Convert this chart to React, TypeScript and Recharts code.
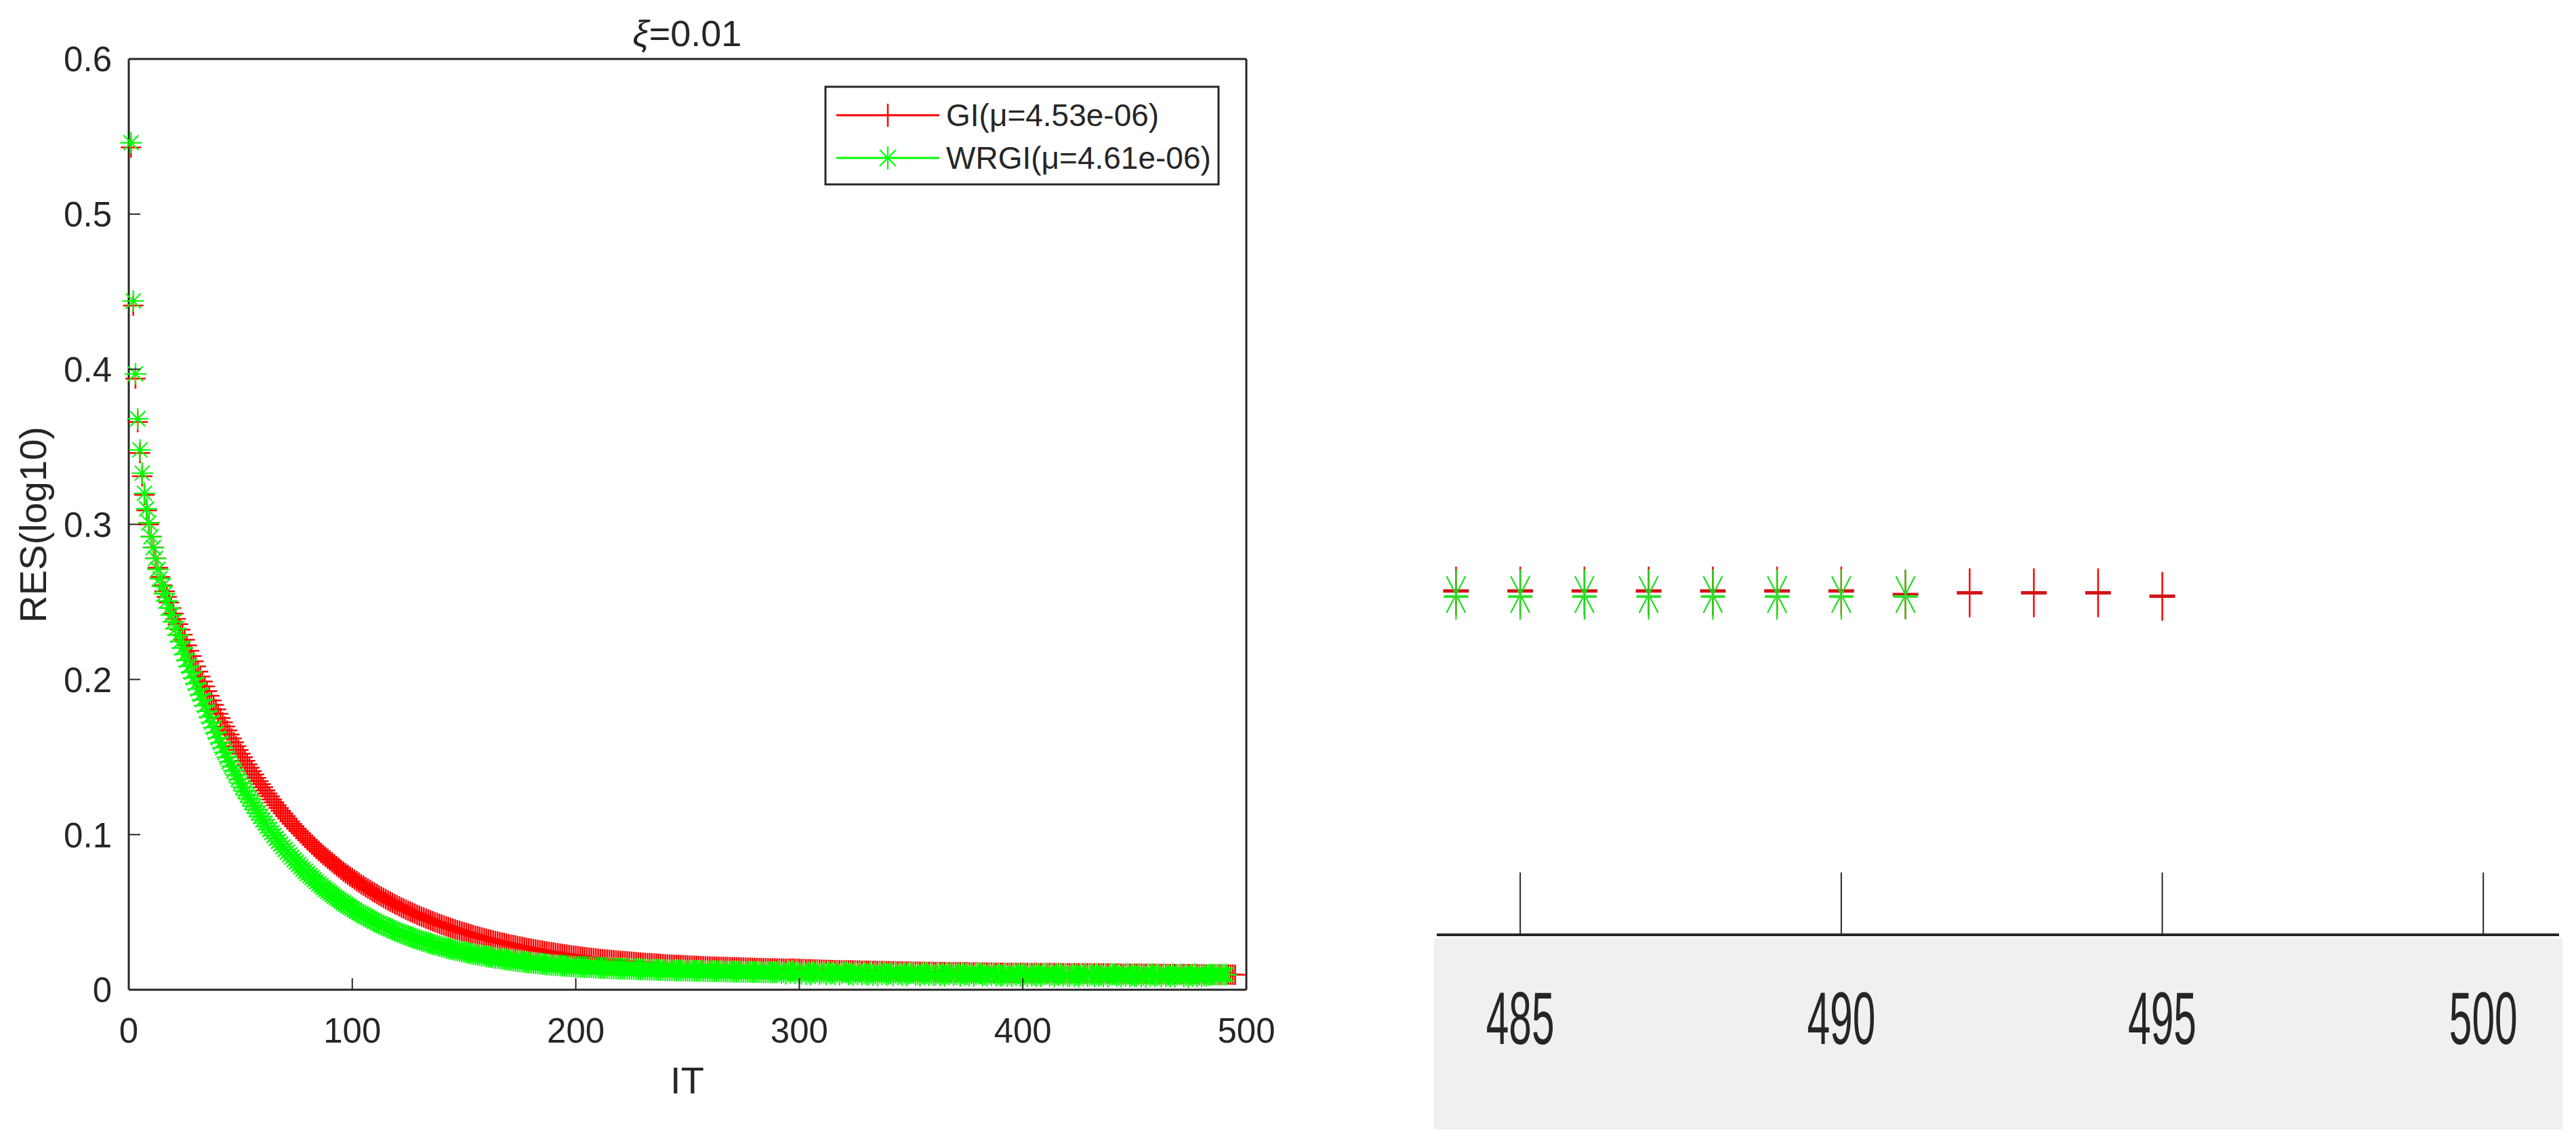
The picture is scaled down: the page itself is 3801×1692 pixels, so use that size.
import { ScatterChart, Scatter, XAxis, YAxis } from 'recharts'

// residual per iteration (iteration = index + 1)
const GI = [
  0.543, 0.441, 0.394, 0.366, 0.346, 0.331, 0.319, 0.309, 0.300, 0.292,
  0.285, 0.278, 0.272, 0.266, 0.2607, 0.2569, 0.2532, 0.2496, 0.2460, 0.2425,
  0.2390, 0.2356, 0.2322, 0.2289, 0.2256, 0.2220, 0.2185, 0.2151, 0.2117, 0.2084,
  0.2051, 0.2019, 0.1987, 0.1956, 0.1925, 0.1895, 0.1865, 0.1836, 0.1807, 0.1779,
  0.1751, 0.1724, 0.1697, 0.1671, 0.1645, 0.1620, 0.1595, 0.1570, 0.1546, 0.1522,
  0.1499, 0.1476, 0.1453, 0.1431, 0.1409, 0.1387, 0.1366, 0.1345, 0.1325, 0.1305,
  0.1285, 0.1265, 0.1246, 0.1227, 0.1208, 0.1190, 0.1172, 0.1154, 0.1137, 0.1120,
  0.1103, 0.1086, 0.1070, 0.1054, 0.1038, 0.1023, 0.1008, 0.0993, 0.0978, 0.0964,
  0.0949, 0.0935, 0.0922, 0.0908, 0.0895, 0.0882, 0.0869, 0.0856, 0.0844, 0.0832,
  0.0820, 0.0808, 0.0796, 0.0785, 0.0773, 0.0762, 0.0751, 0.0741, 0.0730, 0.0720,
  0.0710, 0.0700, 0.0690, 0.0680, 0.0671, 0.0661, 0.0652, 0.0643, 0.0634, 0.0625,
  0.0617, 0.0608, 0.0600, 0.0592, 0.0583, 0.0575, 0.0568, 0.0560, 0.0552, 0.0545,
  0.0538, 0.0530, 0.0523, 0.0516, 0.0509, 0.0503, 0.0496, 0.0490, 0.0483, 0.0477,
  0.0471, 0.0465, 0.0459, 0.0453, 0.0447, 0.0441, 0.0436, 0.0430, 0.0425, 0.0419,
  0.0414, 0.0409, 0.0404, 0.0399, 0.0394, 0.0389, 0.0384, 0.0380, 0.0375, 0.0370,
  0.0366, 0.0362, 0.0357, 0.0353, 0.0349, 0.0345, 0.0341, 0.0337, 0.0333, 0.0329,
  0.0325, 0.0322, 0.0318, 0.0314, 0.0311, 0.0307, 0.0304, 0.0301, 0.0297, 0.0294,
  0.0291, 0.0288, 0.0285, 0.0282, 0.0279, 0.0276, 0.0273, 0.0270, 0.0267, 0.0265,
  0.0262, 0.0259, 0.0257, 0.0254, 0.0252, 0.0249, 0.0247, 0.0244, 0.0242, 0.0240,
  0.0237, 0.0235, 0.0233, 0.0231, 0.0228, 0.0226, 0.0224, 0.0222, 0.0220, 0.0218,
  0.0216, 0.0214, 0.0212, 0.0210, 0.0209, 0.0207, 0.0205, 0.0203, 0.0202, 0.0200,
  0.0198, 0.0197, 0.0195, 0.0194, 0.0193, 0.0191, 0.0190, 0.0189, 0.0187, 0.0186,
  0.0185, 0.0183, 0.0182, 0.0181, 0.0180, 0.0179, 0.0177, 0.0176, 0.0175, 0.0174,
  0.0173, 0.0172, 0.0171, 0.0170, 0.0169, 0.0168, 0.0167, 0.0166, 0.0165, 0.0164,
  0.0163, 0.0162, 0.0162, 0.0161, 0.0160, 0.0159, 0.0158, 0.0158, 0.0157, 0.0156,
  0.0155, 0.0155, 0.0154, 0.0154, 0.0153, 0.0152, 0.0152, 0.0151, 0.0151, 0.0150,
  0.0149, 0.0149, 0.0148, 0.0148, 0.0147, 0.0147, 0.0146, 0.0146, 0.0145, 0.0145,
  0.0144, 0.0144, 0.0144, 0.0143, 0.0143, 0.0142, 0.0142, 0.0142, 0.0141, 0.0141,
  0.0140, 0.0140, 0.0140, 0.0139, 0.0139, 0.0139, 0.0138, 0.0138, 0.0138, 0.0137,
  0.0137, 0.0137, 0.0136, 0.0136, 0.0136, 0.0135, 0.0135, 0.0135, 0.0134, 0.0134,
  0.0133, 0.0133, 0.0132, 0.0132, 0.0131, 0.0131, 0.0130, 0.0130, 0.0129, 0.0129,
  0.0128, 0.0128, 0.0128, 0.0127, 0.0127, 0.0126, 0.0126, 0.0126, 0.0125, 0.0125,
  0.0125, 0.0124, 0.0124, 0.0124, 0.0123, 0.0123, 0.0123, 0.0122, 0.0122, 0.0122,
  0.0121, 0.0121, 0.0121, 0.0121, 0.0120, 0.0120, 0.0120, 0.0120, 0.0119, 0.0119,
  0.0119, 0.0119, 0.0118, 0.0118, 0.0118, 0.0118, 0.0117, 0.0117, 0.0117, 0.0117,
  0.0116, 0.0116, 0.0116, 0.0116, 0.0116, 0.0115, 0.0115, 0.0115, 0.0115, 0.0115,
  0.0114, 0.0114, 0.0114, 0.0114, 0.0114, 0.0113, 0.0113, 0.0113, 0.0113, 0.0113,
  0.0112, 0.0112, 0.0112, 0.0112, 0.0112, 0.0111, 0.0111, 0.0111, 0.0111, 0.0111,
  0.0110, 0.0110, 0.0110, 0.0110, 0.0110, 0.0110, 0.0109, 0.0109, 0.0109, 0.0109,
  0.0109, 0.0109, 0.0108, 0.0108, 0.0108, 0.0108, 0.0108, 0.0108, 0.0108, 0.0108,
  0.0108, 0.0108, 0.0107, 0.0107, 0.0107, 0.0107, 0.0107, 0.0107, 0.0107, 0.0107,
  0.0107, 0.0107, 0.0107, 0.0107, 0.0107, 0.0106, 0.0106, 0.0106, 0.0106, 0.0106,
  0.0106, 0.0106, 0.0106, 0.0106, 0.0106, 0.0106, 0.0106, 0.0106, 0.0106, 0.0106,
  0.0105, 0.0105, 0.0105, 0.0105, 0.0105, 0.0105, 0.0105, 0.0105, 0.0105, 0.0105,
  0.0104, 0.0104, 0.0104, 0.0103, 0.0103, 0.0103, 0.0103, 0.0103, 0.0103, 0.0103,
  0.0103, 0.0103, 0.0103, 0.0103, 0.0103, 0.0102, 0.0102, 0.0102, 0.0102, 0.0102,
  0.0102, 0.0102, 0.0102, 0.0101, 0.0101, 0.0101, 0.0101, 0.0101, 0.0101, 0.0101,
  0.0100, 0.0100, 0.0100, 0.0100, 0.0100, 0.0099, 0.0099, 0.0099, 0.0099, 0.0099,
  0.0099, 0.0098, 0.0098, 0.0098, 0.0098, 0.0098, 0.0098, 0.0098, 0.0098, 0.0098,
  0.0097, 0.00975, 0.00975, 0.00975, 0.00965,
]

const WRGI = [
  0.546, 0.444, 0.397, 0.368, 0.348, 0.333, 0.320, 0.310, 0.301, 0.292,
  0.285, 0.278, 0.271, 0.2650, 0.2601, 0.2553, 0.2506, 0.2461, 0.2416, 0.2372,
  0.2328, 0.2286, 0.2244, 0.2203, 0.2163, 0.2124, 0.2085, 0.2047, 0.2010, 0.1974,
  0.1938, 0.1903, 0.1869, 0.1832, 0.1795, 0.1759, 0.1724, 0.1690, 0.1657, 0.1624,
  0.1592, 0.1560, 0.1530, 0.1499, 0.1470, 0.1441, 0.1413, 0.1385, 0.1358, 0.1331,
  0.1305, 0.1280, 0.1255, 0.1231, 0.1207, 0.1183, 0.1161, 0.1138, 0.1116, 0.1095,
  0.1074, 0.1053, 0.1033, 0.1013, 0.0994, 0.0975, 0.0957, 0.0939, 0.0921, 0.0904,
  0.0887, 0.0870, 0.0854, 0.0838, 0.0822, 0.0807, 0.0792, 0.0777, 0.0763, 0.0749,
  0.0735, 0.0722, 0.0709, 0.0696, 0.0683, 0.0671, 0.0659, 0.0647, 0.0635, 0.0624,
  0.0613, 0.0602, 0.0591, 0.0581, 0.0571, 0.0561, 0.0551, 0.0541, 0.0532, 0.0523,
  0.0514, 0.0505, 0.0496, 0.0488, 0.0480, 0.0472, 0.0464, 0.0456, 0.0448, 0.0441,
  0.0434, 0.0426, 0.0419, 0.0413, 0.0406, 0.0399, 0.0393, 0.0387, 0.0381, 0.0375,
  0.0369, 0.0363, 0.0357, 0.0352, 0.0346, 0.0341, 0.0336, 0.0331, 0.0326, 0.0321,
  0.0316, 0.0312, 0.0307, 0.0303, 0.0298, 0.0294, 0.0290, 0.0286, 0.0282, 0.0278,
  0.0274, 0.0270, 0.0267, 0.0263, 0.0260, 0.0256, 0.0253, 0.0250, 0.0246, 0.0243,
  0.0240, 0.0237, 0.0234, 0.0231, 0.0228, 0.0226, 0.0223, 0.0220, 0.0218, 0.0215,
  0.0213, 0.0210, 0.0208, 0.0205, 0.0203, 0.0201, 0.0199, 0.0196, 0.0194, 0.0192,
  0.0190, 0.0188, 0.0186, 0.0184, 0.0182, 0.0181, 0.0179, 0.0177, 0.0175, 0.0174,
  0.0172, 0.0171, 0.0169, 0.0168, 0.0166, 0.0165, 0.0163, 0.0162, 0.0160, 0.0159,
  0.0158, 0.0157, 0.0156, 0.0155, 0.0154, 0.0153, 0.0152, 0.0151, 0.0150, 0.0149,
  0.0148, 0.0147, 0.0147, 0.0146, 0.0145, 0.0144, 0.0144, 0.0143, 0.0142, 0.0142,
  0.0141, 0.0140, 0.0140, 0.0139, 0.0139, 0.0138, 0.0137, 0.0137, 0.0136, 0.0136,
  0.0135, 0.0135, 0.0134, 0.0134, 0.0133, 0.0133, 0.0132, 0.0132, 0.0131, 0.0131,
  0.0130, 0.0130, 0.0129, 0.0129, 0.0128, 0.0128, 0.0128, 0.0127, 0.0127, 0.0126,
  0.0126, 0.0126, 0.0125, 0.0125, 0.0124, 0.0124, 0.0124, 0.0123, 0.0123, 0.0123,
  0.0122, 0.0122, 0.0122, 0.0121, 0.0121, 0.0121, 0.0120, 0.0120, 0.0120, 0.0119,
  0.0119, 0.0119, 0.0119, 0.0118, 0.0118, 0.0118, 0.0117, 0.0117, 0.0117, 0.0117,
  0.0116, 0.0116, 0.0116, 0.0116, 0.0115, 0.0115, 0.0115, 0.0115, 0.0114, 0.0114,
  0.0114, 0.0114, 0.0113, 0.0113, 0.0113, 0.0113, 0.0112, 0.0112, 0.0112, 0.0112,
  0.0120, 0.0107, 0.0114, 0.0103, 0.0118, 0.0109, 0.0121, 0.0105, 0.0116, 0.0106,
  0.0104, 0.0116, 0.0101, 0.0111, 0.0099, 0.0115, 0.0106, 0.0117, 0.0102, 0.0109,
  0.0111, 0.0098, 0.0115, 0.0103, 0.0108, 0.0099, 0.0114, 0.0097, 0.0109, 0.0112,
  0.0112, 0.0099, 0.0106, 0.0095, 0.0110, 0.0101, 0.0113, 0.0097, 0.0108, 0.0098,
  0.0098, 0.0110, 0.0095, 0.0105, 0.0093, 0.0109, 0.0100, 0.0111, 0.0096, 0.0103,
  0.0106, 0.0093, 0.0110, 0.0098, 0.0103, 0.0094, 0.0109, 0.0092, 0.0104, 0.0107,
  0.0108, 0.0095, 0.0102, 0.0091, 0.0106, 0.0097, 0.0109, 0.0093, 0.0104, 0.0094,
  0.0095, 0.0107, 0.0092, 0.0102, 0.0090, 0.0106, 0.0097, 0.0108, 0.0093, 0.0100,
  0.0103, 0.0090, 0.0107, 0.0095, 0.0100, 0.0091, 0.0106, 0.0089, 0.0101, 0.0104,
  0.0105, 0.0092, 0.0099, 0.0088, 0.0103, 0.0094, 0.0106, 0.0090, 0.0101, 0.0091,
  0.0092, 0.0104, 0.0089, 0.0099, 0.0087, 0.0103, 0.0094, 0.0105, 0.0090, 0.0097,
  0.0100, 0.0087, 0.0104, 0.0092, 0.0097, 0.0088, 0.0103, 0.0086, 0.0098, 0.0101,
  0.0103, 0.0090, 0.0097, 0.0086, 0.0101, 0.0092, 0.0104, 0.0088, 0.0099, 0.0089,
  0.0090, 0.0102, 0.0087, 0.0097, 0.0085, 0.0101, 0.0092, 0.0103, 0.0088, 0.0095,
  0.0098, 0.0085, 0.0102, 0.0090, 0.0095, 0.0086, 0.0101, 0.0084, 0.0096, 0.0099,
  0.0101, 0.0088, 0.0095, 0.0084, 0.0099, 0.0090, 0.0102, 0.0086, 0.0097, 0.0087,
  0.0088, 0.0100, 0.0085, 0.0095, 0.0083, 0.0099, 0.0090, 0.0101, 0.0086, 0.0093,
  0.0097, 0.0084, 0.0101, 0.0089, 0.0094, 0.0085, 0.0100, 0.0083, 0.0095, 0.0098,
  0.0099, 0.0086, 0.0093, 0.0082, 0.0097, 0.0088, 0.0100, 0.0084, 0.0095, 0.0085,
  0.0093, 0.0090, 0.0095, 0.0097, 0.0097, 0.0097, 0.0097, 0.0097, 0.0097, 0.0097,
  0.0097,
]

const X_TICKS = [0, 100, 200, 300, 400, 500]
const Y_TICKS = [0, 0.1, 0.2, 0.3, 0.4, 0.5, 0.6]
const ZOOM_TICKS = [485, 490, 495, 500]
const ZOOM_FROM = 484

const giData = GI.map((v, i) => ({ it: i + 1, res: v }))
const wrgiData = WRGI.map((v, i) => ({ it: i + 1, res: v }))
const giZoom = giData.filter((d) => d.it >= ZOOM_FROM)
const wrgiZoom = wrgiData.filter((d) => d.it >= ZOOM_FROM)

const AX = '#262626'
const RED = '#ff0000'
const GREEN = '#00ff00'
const FONT = '"Liberation Sans", Arial, Helvetica, sans-serif'

function plusPath(cx: number, cy: number, rx: number, ry: number) {
  return `M${cx - rx},${cy}H${cx + rx}M${cx},${cy - ry}V${cy + ry}`
}

function starPath(cx: number, cy: number, rx: number, ry: number, dx: number, dy: number) {
  return (
    plusPath(cx, cy, rx, ry) +
    `M${cx - dx},${cy - dy}L${cx + dx},${cy + dy}M${cx - dx},${cy + dy}L${cx + dx},${cy - dy}`
  )
}

const PlusMark = (p: any) => (
  <path d={plusPath(p.cx, p.cy, 15, 15)} stroke={RED} strokeWidth={2.5} fill="none" />
)
const StarMark = (p: any) => (
  <path d={starPath(p.cx, p.cy, 16, 16, 11, 11)} stroke={GREEN} strokeWidth={2.2} fill="none" />
)

// the zoomed panel is stretched vertically
const ZoomPlus = (p: any) => (
  <g>
    <path d={`M${p.cx},${p.cy - 36}V${p.cy + 36}`} stroke={RED} strokeWidth={2.5} />
    <path d={`M${p.cx - 19},${p.cy}H${p.cx + 19}`} stroke="#d41418" strokeWidth={5} />
  </g>
)
const ZoomStar = (p: any) => (
  <g>
    <path d={starPath(p.cx, p.cy, 0, 37, 14, 27)} stroke="#18e018" strokeWidth={2.2} fill="none" />
    <path d={`M${p.cx - 18},${p.cy + 3}H${p.cx + 18}`} stroke="#30e030" strokeWidth={4} />
  </g>
)

const BottomTick = (p: any) => (
  <g>
    <line x1={p.x} y1={p.y} x2={p.x} y2={p.y - 17} stroke={AX} strokeWidth={2} />
    <text x={p.x} y={p.y + 78} textAnchor="middle" fontSize={51} fill={AX} fontFamily={FONT}>
      {p.payload.value}
    </text>
  </g>
)
const LeftTick = (p: any) => (
  <g>
    <line x1={p.x} y1={p.y} x2={p.x + 17} y2={p.y} stroke={AX} strokeWidth={2} />
    <text x={p.x - 25} y={p.y} dy="0.36em" textAnchor="end" fontSize={51} fill={AX} fontFamily={FONT}>
      {p.payload.value}
    </text>
  </g>
)
const TopTick = (p: any) => (
  <line x1={p.x} y1={p.y} x2={p.x} y2={p.y + 17} stroke={AX} strokeWidth={2} />
)
const RightTick = (p: any) => (
  <line x1={p.x} y1={p.y} x2={p.x - 17} y2={p.y} stroke={AX} strokeWidth={2} />
)
const ZoomTick = (p: any) => (
  <g>
    <line x1={p.x} y1={p.y} x2={p.x} y2={p.y - 92} stroke={AX} strokeWidth={2} />
    <text
      transform={`translate(${p.x},${p.y + 161}) scale(0.55,1)`}
      textAnchor="middle"
      fontSize={110}
      fill={AX}
      fontFamily={FONT}
    >
      {p.payload.value}
    </text>
  </g>
)

export default function App() {
  return (
    <div style={{ position: 'absolute', left: 0, top: 0, width: 3801, height: 1692, background: '#fff' }}>
      <div style={{ position: 'absolute', left: 2116, top: 1384, width: 1665, height: 282, background: '#f0f0f0' }} />

      <div style={{ position: 'absolute', left: 0, top: 0 }}>
        <ScatterChart width={1900} height={1692} margin={{ top: 86, right: 60, bottom: 231, left: 189 }}>
          <XAxis
            dataKey="it"
            type="number"
            domain={[0, 500]}
            ticks={X_TICKS}
            interval={0}
            height={1}
            tickSize={0}
            tickMargin={0}
            tickLine={false}
            axisLine={{ stroke: AX, strokeWidth: 3 }}
            tick={(p: any) => <BottomTick {...p} />}
          />
          <XAxis
            xAxisId="top"
            orientation="top"
            type="number"
            domain={[0, 500]}
            ticks={X_TICKS}
            interval={0}
            height={1}
            tickSize={0}
            tickMargin={0}
            tickLine={false}
            axisLine={{ stroke: AX, strokeWidth: 3 }}
            tick={(p: any) => <TopTick {...p} />}
          />
          <YAxis
            dataKey="res"
            type="number"
            domain={[0, 0.6]}
            ticks={Y_TICKS}
            interval={0}
            width={1}
            tickSize={0}
            tickMargin={0}
            tickLine={false}
            axisLine={{ stroke: AX, strokeWidth: 3 }}
            tick={(p: any) => <LeftTick {...p} />}
          />
          <YAxis
            yAxisId="right"
            orientation="right"
            type="number"
            domain={[0, 0.6]}
            ticks={Y_TICKS}
            interval={0}
            width={1}
            tickSize={0}
            tickMargin={0}
            tickLine={false}
            axisLine={{ stroke: AX, strokeWidth: 3 }}
            tick={(p: any) => <RightTick {...p} />}
          />
          <Scatter data={giData} shape={PlusMark} isAnimationActive={false} />
          <Scatter data={wrgiData} shape={StarMark} isAnimationActive={false} />
        </ScatterChart>
      </div>

      <div style={{ position: 'absolute', left: 2100, top: 0 }}>
        <ScatterChart width={1701} height={1692} margin={{ top: 344, right: 25, bottom: 312, left: 20 }}>
          <XAxis
            dataKey="it"
            type="number"
            domain={[483.7, 501.18]}
            allowDataOverflow
            ticks={ZOOM_TICKS}
            interval={0}
            height={1}
            tickSize={0}
            tickMargin={0}
            tickLine={false}
            axisLine={{ stroke: AX, strokeWidth: 4 }}
            tick={(p: any) => <ZoomTick {...p} />}
          />
          <YAxis dataKey="res" type="number" domain={[0, 0.02]} hide width={0} />
          <Scatter data={giZoom} shape={ZoomPlus} isAnimationActive={false} />
          <Scatter data={wrgiZoom} shape={ZoomStar} isAnimationActive={false} />
        </ScatterChart>
      </div>

      <svg
        width={3801}
        height={1692}
        style={{ position: 'absolute', left: 0, top: 0, pointerEvents: 'none' }}
        fontFamily={FONT}
        fill={AX}
      >
        <text x={1014} y={68} textAnchor="middle" fontSize={54}>
          <tspan fontStyle="italic">ξ</tspan>=0.01
        </text>
        <text x={1014} y={1613} textAnchor="middle" fontSize={56}>IT</text>
        <text transform="translate(68,774) rotate(-90)" textAnchor="middle" fontSize={56}>RES(log10)</text>

        <rect x={1218} y={128} width={580} height={144} fill="#fff" stroke={AX} strokeWidth={3} />
        <line x1={1234} y1={170} x2={1386} y2={170} stroke={RED} strokeWidth={3} />
        <path d={plusPath(1310, 170, 0, 17)} stroke={RED} strokeWidth={2.5} />
        <text x={1396} y={186} fontSize={46}>GI(μ=4.53e-06)</text>
        <line x1={1234} y1={233} x2={1386} y2={233} stroke={GREEN} strokeWidth={3} />
        <path d={starPath(1310, 233, 0, 17, 12, 12)} stroke={GREEN} strokeWidth={2.2} fill="none" />
        <text x={1396} y={249} fontSize={46}>WRGI(μ=4.61e-06)</text>
      </svg>
    </div>
  )
}
